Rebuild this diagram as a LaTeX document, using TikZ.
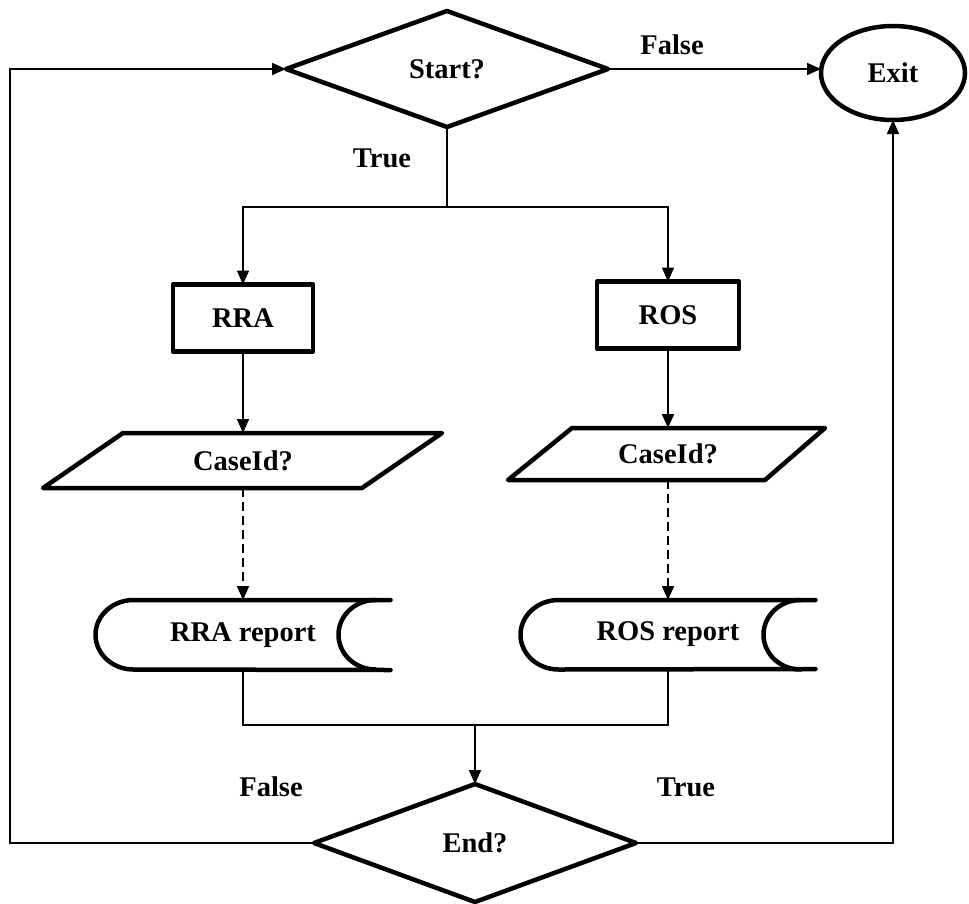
\documentclass[tikz,border=0pt]{standalone}
\usepackage{fontspec}
\setmainfont{Liberation Serif}
\usetikzlibrary{arrows.meta,shapes.geometric}
\begin{document}
\begin{tikzpicture}[x=1pt,y=-1pt,
  every node/.style={font=\fontsize{28.5}{34}\selectfont\bfseries, inner sep=0pt, outer sep=0pt},
  shapeline/.style={line width=4.5pt, line join=round, line cap=round},
  decision/.style={diamond, draw, shapeline, aspect=3, minimum width=322pt, minimum height=116pt},
  terminal/.style={ellipse, draw, shapeline, minimum width=144pt, minimum height=94pt},
  process/.style={rectangle, draw, shapeline, minimum width=140pt, minimum height=67pt},
  textbox/.style={rectangle, minimum width=80pt},
  conn/.style={line width=1.8pt, -{Triangle[length=14pt,width=12pt]}},
  plain/.style={line width=1.8pt},
  dashconn/.style={conn, dash pattern=on 9pt off 5pt}
]
\useasboundingbox (0,0) rectangle (969,903);

% decisions and terminal
\node[decision] (start) at (447,69) {Start?};
\node[terminal] (exit) at (893,73) {Exit};
\node[decision, minimum height=118pt] (end) at (475,843) {End?};

% left branch
\node[process] (rra) at (243,318) {RRA};
\node[textbox, minimum height=55pt] (cidL) at (243,460.5) {CaseId?};
\node[textbox, minimum height=70pt] (rrarep) at (243,635) {RRA report};

% right branch
\node[process, minimum width=142pt] (ros) at (668,315) {ROS};
\node[textbox, minimum height=52pt] (cidR) at (668,454) {CaseId?};
\node[textbox, minimum height=69pt] (rosrep) at (668,634.5) {ROS report};

% input/output parallelograms
\draw[shapeline] ([xshift=-120pt]cidL.north) -- ([xshift=199pt]cidL.north)
  -- ([xshift=119pt]cidL.south) -- ([xshift=-200pt]cidL.south) -- cycle;
\draw[shapeline] ([xshift=-96pt]cidR.north) -- ([xshift=157pt]cidR.north)
  -- ([xshift=97pt]cidR.south) -- ([xshift=-160pt]cidR.south) -- cycle;

% stored-data report shapes
\foreach \r in {rrarep,rosrep}{
  \draw[shapeline] ([xshift=147.5pt]\r.north) -- ([xshift=-109.5pt]\r.north)
    arc[start angle=90, end angle=270, x radius=38pt, y radius=34.75pt]
    -- ([xshift=147.5pt]\r.south);
  \draw[shapeline] ([xshift=132.5pt]\r.north)
    arc[start angle=90, end angle=270, x radius=37pt, y radius=34.75pt];
}

% edge labels
\node (lfalse1) at (672,45) {False};
\node (ltrue1) at (382,158) {True};
\node (lfalse2) at (271,787) {False};
\node (ltrue2) at (686,787) {True};

% connectors
\coordinate (split) at (447,207);
\coordinate (merge) at (475,725);
\coordinate (loopL) at (10,843);

\draw[conn] (start.east) -- (start.east -| exit.west);
\draw[plain] (start.south) -- (split);
\draw[conn] (split) -| (rra.north);
\draw[conn] (split) -| (ros.north);
\draw[conn] (rra.south) -- (cidL.north);
\draw[conn] (ros.south) -- (cidR.north);
\draw[dashconn] (cidL.south) -- (rrarep.north);
\draw[dashconn] (cidR.south) -- (rosrep.north);
\draw[plain] (rrarep.south) -- (rrarep.south |- merge) -- (rosrep.south |- merge) -- (rosrep.south);
\draw[conn] (merge) -- (end.north);
\draw[conn] (end.west) -- (loopL) |- (start.west);
\draw[conn] (end.east) -| (exit.south);
\end{tikzpicture}
\end{document}
